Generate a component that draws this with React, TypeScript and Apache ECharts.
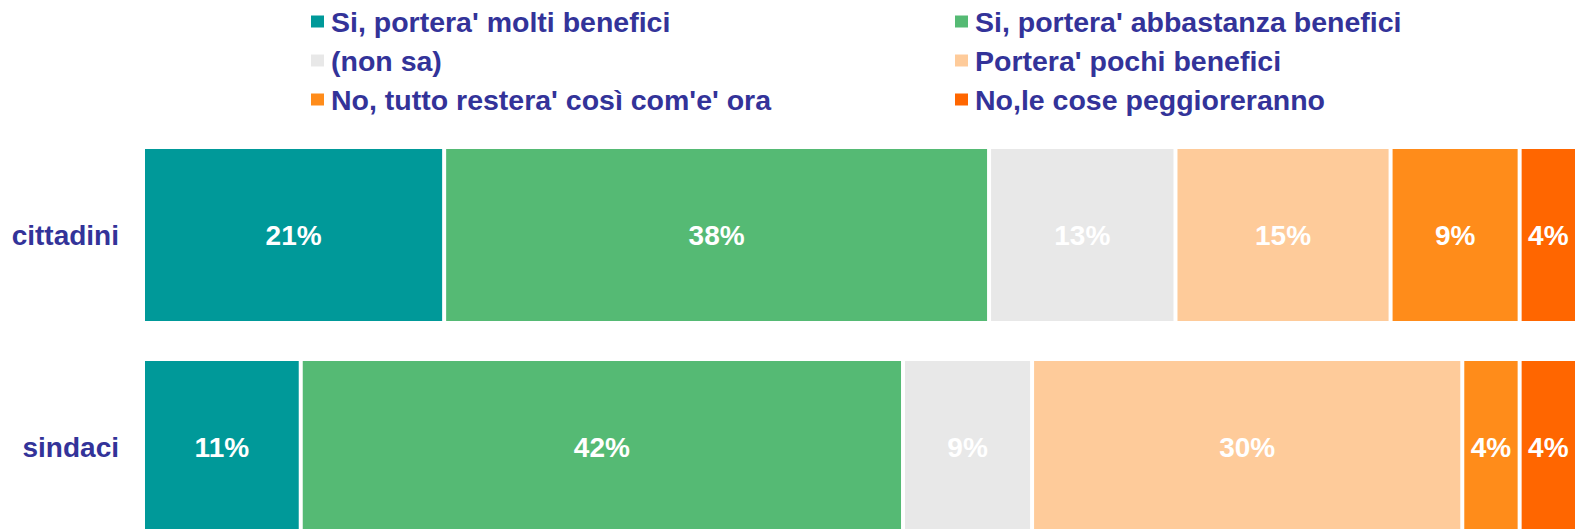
import React, { useEffect, useRef } from "react";
import * as echarts from "echarts";

const categories = ["cittadini", "sindaci"];
const seriesNames = [
  "Si, portera' molti benefici",
  "Si, portera' abbastanza benefici",
  "(non sa)",
  "Portera' pochi benefici",
  "No, tutto restera' così com'e' ora",
  "No,le cose peggioreranno",
];
const molti = [21, 11];
const abbastanza = [38, 42];
const nonSa = [13, 9];
const pochi = [15, 30];
const restera = [9, 4];
const peggio = [4, 4];
const seriesValues = [molti, abbastanza, nonSa, pochi, restera, peggio];
const colors = ["#009999", "#55BA74", "#E8E8E8", "#FECB9A", "#FF8C1A", "#FF6600"];

const FONT = "'Liberation Sans', Arial, sans-serif";
const TEXT_COLOR = "#333399";

export default function App() {
  const ref = useRef<HTMLDivElement>(null);
  useEffect(() => {
    if (!ref.current) return;
    const chart = echarts.init(ref.current, null, { renderer: "svg" });
    const legendCommon = {
      orient: "vertical" as const,
      top: 2,
      icon: "rect",
      itemWidth: 15,
      itemHeight: 14,
      itemGap: 10,
      selectedMode: false,
      textStyle: {
        fontFamily: FONT,
        fontSize: 28.5,
        fontWeight: "bold" as const,
        color: TEXT_COLOR,
        lineHeight: 28,
        padding: [0, 0, 0, 1],
      },
    };
    chart.setOption({
      animation: false,
      color: colors,
      legend: [
        { ...legendCommon, left: 304, data: [seriesNames[0], seriesNames[2], seriesNames[4]] },
        { ...legendCommon, left: 948, data: [seriesNames[1], seriesNames[3], seriesNames[5]] },
      ],
      grid: { left: 143, top: 129, width: 1434, height: 424, containLabel: false },
      xAxis: { type: "value", min: 0, max: 100, show: false },
      yAxis: {
        type: "category",
        data: categories,
        inverse: true,
        axisLine: { show: false },
        axisTick: { show: false },
        splitLine: { show: false },
        axisLabel: {
          margin: 24,
          fontFamily: FONT,
          fontSize: 28,
          fontWeight: "bold",
          color: TEXT_COLOR,
        },
      },
      series: seriesNames.map((name, i) => ({
        name,
        type: "bar",
        stack: "total",
        barWidth: 176,
        data: seriesValues[i],
        itemStyle: { color: colors[i], borderColor: "#ffffff", borderWidth: 2 },
        label: {
          show: true,
          position: "inside",
          formatter: (p: any) => `${p.value}%`,
          fontFamily: FONT,
          fontSize: 28,
          fontWeight: "bold",
          color: "#ffffff",
        },
      })),
    });
    return () => chart.dispose();
  }, []);
  return (
    <div
      style={{ position: "absolute", left: 0, top: 0, width: 1577, height: 529, overflow: "hidden", background: "#fff" }}
    >
      <div ref={ref} style={{ width: 1577, height: 570 }} />
    </div>
  );
}
